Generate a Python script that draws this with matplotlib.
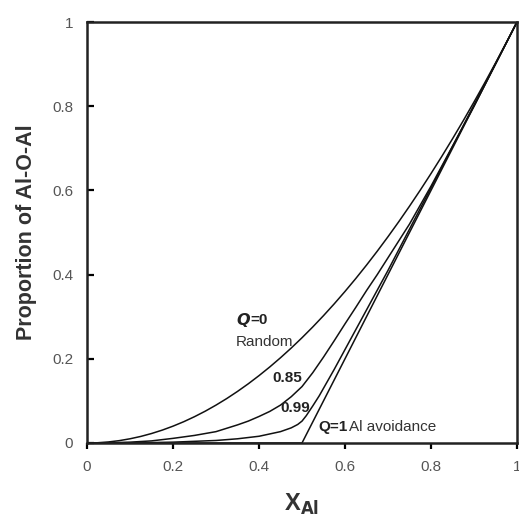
import matplotlib
matplotlib.use('Agg')
import matplotlib.pyplot as plt

plt.rcParams['font.family'] = ['Liberation Sans', 'DejaVu Sans']

# values
x_random = [0, 0.025, 0.05, 0.075, 0.1, 0.125, 0.15, 0.175, 0.2, 0.225, 0.25, 0.275,
            0.3, 0.325, 0.35, 0.375, 0.4, 0.425, 0.45, 0.475, 0.5, 0.525, 0.55, 0.575,
            0.6, 0.625, 0.65, 0.675, 0.7, 0.725, 0.75, 0.775, 0.8, 0.825, 0.85, 0.875,
            0.9, 0.925, 0.95, 0.975, 1.0]
y_random = [0, 0.0006, 0.0025, 0.0056, 0.01, 0.0156, 0.0225, 0.0306, 0.04, 0.0506, 0.0625, 0.0756,
            0.09, 0.1056, 0.1225, 0.1406, 0.16, 0.1806, 0.2025, 0.2256, 0.25, 0.2756, 0.3025, 0.3306,
            0.36, 0.3906, 0.4225, 0.4556, 0.49, 0.5256, 0.5625, 0.6006, 0.64, 0.6806, 0.7225, 0.7656,
            0.81, 0.8556, 0.9025, 0.9506, 1.0]

x_q085 = [0, 0.05, 0.1, 0.15, 0.2, 0.25, 0.3, 0.35, 0.375, 0.4, 0.425, 0.45, 0.475, 0.5,
          0.525, 0.55, 0.575, 0.6, 0.625, 0.65, 0.675, 0.7, 0.75, 0.8, 0.85, 0.9, 0.95, 1.0]
y_q085 = [0, 0.0005, 0.002, 0.005, 0.011, 0.018, 0.027, 0.043, 0.052, 0.063, 0.075, 0.09, 0.11, 0.134,
          0.167, 0.204, 0.243, 0.283, 0.322, 0.362, 0.40, 0.44, 0.52, 0.61, 0.705, 0.80, 0.90, 1.0]

x_q099 = [0, 0.05, 0.1, 0.15, 0.2, 0.25, 0.3, 0.35, 0.4, 0.45, 0.475, 0.49, 0.5, 0.51, 0.525,
          0.54, 0.55, 0.575, 0.6, 0.65, 0.7, 0.75, 0.8, 0.85, 0.9, 0.95, 1.0]
y_q099 = [0, 0, 0.0005, 0.001, 0.002, 0.004, 0.006, 0.01, 0.016, 0.027, 0.036, 0.044, 0.052, 0.065, 0.088,
          0.112, 0.13, 0.175, 0.222, 0.316, 0.41, 0.508, 0.606, 0.704, 0.803, 0.901, 1.0]

x_q1 = [0, 0.5, 1.0]
y_q1 = [0, 0, 1.0]

ticks = [0, 0.2, 0.4, 0.6, 0.8, 1.0]
tick_labels = ['0', '0.2', '0.4', '0.6', '0.8', '1']

fig = plt.figure(figsize=(5.19, 5.14), dpi=100)
ax = fig.add_axes([87/519, 71/514, 430/519, 421/514])

for xs, ys in [(x_random, y_random), (x_q085, y_q085), (x_q099, y_q099), (x_q1, y_q1)]:
    ax.plot(xs, ys, color='#111111', lw=1.1, solid_joinstyle='round')

ax.set_xlim(0, 1)
ax.set_ylim(0, 1)
ax.set_xticks(ticks)
ax.set_xticklabels(tick_labels)
ax.set_yticks(ticks)
ax.set_yticklabels(tick_labels)
for s in ax.spines.values():
    s.set_linewidth(1.8)
    s.set_color('#222222')
ax.tick_params(axis='x', direction='out', length=4, width=1.6, pad=8,
               labelsize=11, labelcolor='#555555')
ax.tick_params(axis='y', direction='in', length=5, width=1.6, pad=10,
               labelsize=11, labelcolor='#555555')

ax.set_ylabel('Proportion of Al-O-Al', fontsize=15.5, fontweight='bold',
              color='#333333', labelpad=11)
ax.set_xlabel(r'X$_{\mathbf{Al}}$', fontsize=17, fontweight='bold',
              color='#333333', labelpad=13)

# curve annotations
ax.text((236-87)/430, (443-320)/421, r'$\boldsymbol{Q}$', fontsize=11.5,
        ha='left', va='center', color='#222222')
ax.text((250-87)/430, (443-320)/421, '=0', fontsize=11, fontweight='bold',
        ha='left', va='center', color='#222222')
ax.text((236-87)/430, (443-342)/421, 'Random', fontsize=11,
        ha='left', va='center', color='#333333')
ax.text((272-87)/430, (443-378)/421, '0.85', fontsize=11, fontweight='bold',
        ha='left', va='center', color='#222222')
ax.text((280-87)/430, (443-408)/421, '0.99', fontsize=11, fontweight='bold',
        ha='left', va='center', color='#222222')
ax.text((318-87)/430, (443-427)/421, 'Q=1', fontsize=11, fontweight='bold',
        ha='left', va='center', color='#222222')
ax.text((349-87)/430, (443-427)/421, 'Al avoidance', fontsize=11,
        ha='left', va='center', color='#333333')

fig.savefig('out.png', dpi=100)
